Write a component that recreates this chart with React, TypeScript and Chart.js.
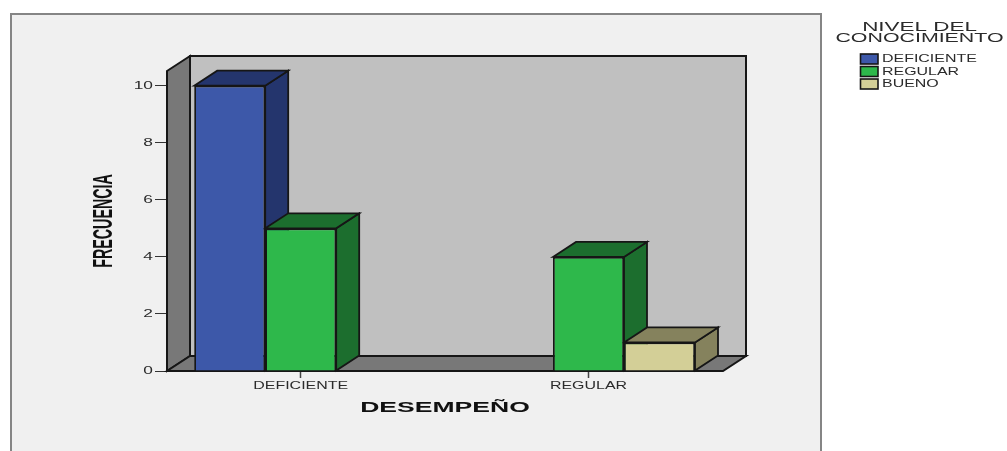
import React, { useEffect, useRef } from "react";
import { Chart, registerables } from "chart.js";

Chart.register(...registerables);

// Chart data
const categories = ["DEFICIENTE", "REGULAR"];
const deficiente = [10, null];
const regular = [5, 4];
const bueno = [null, 1];
const yTicks = [0, 2, 4, 6, 8, 10];
const xTitle = "DESEMPEÑO";
const yTitle = "FRECUENCIA";
const legendTitle = ["NIVEL DEL", "CONOCIMIENTO"];

// Front, shaded and outline colours of the bars
const FRONT = ["#3d58a9", "#2eb84b", "#d3cf97"];
const SHADE = ["#24356d", "#1c6e2e", "#85825d"];
const OUTLINE = "#161616";
const PANEL = "#f0f0f0";
const WALL_BACK = "#c0c0c0";
const WALL_SIDE = "#787878";
const TEXT = "#2b2b2b";

// Oblique projection offset of the 3D box
const DEPTH_X = 23;
const DEPTH_Y = 15;

// Horizontal stretch applied to each kind of label
const STRETCH: Record<string, number> = {
  [yTitle]: 0.51,
  [xTitle]: 1.77,
  [legendTitle[0]]: 1.87,
  [legendTitle[1]]: 1.78,
};
const stretchFor = (text: string) =>
  STRETCH[text] ?? (/^\d+$/.test(text) ? 1.65 : 1.45);

function poly(ctx: CanvasRenderingContext2D, pts: number[][], fill: string, lw = 1.8) {
  ctx.beginPath();
  pts.forEach(([x, y], i) => (i ? ctx.lineTo(x, y) : ctx.moveTo(x, y)));
  ctx.closePath();
  ctx.fillStyle = fill;
  ctx.fill();
  ctx.lineWidth = lw;
  ctx.strokeStyle = OUTLINE;
  ctx.lineJoin = "miter";
  ctx.stroke();
}

// Grey chart panel, open at the bottom of the page
const panelPlugin = {
  id: "panel",
  beforeDraw(chart: any) {
    const { ctx, width, height } = chart;
    ctx.save();
    ctx.fillStyle = "#ffffff";
    ctx.fillRect(0, 0, width, height);
    ctx.fillStyle = PANEL;
    ctx.fillRect(11, 14, 810, height - 14);
    ctx.strokeStyle = "#858585";
    ctx.lineWidth = 2;
    ctx.beginPath();
    ctx.moveTo(11, height);
    ctx.lineTo(11, 14);
    ctx.lineTo(821, 14);
    ctx.lineTo(821, height);
    ctx.stroke();
    ctx.restore();
  },
};

// Back wall, side wall, floor and the depth faces of every bar
const depthPlugin = {
  id: "depth",
  beforeDatasetsDraw(chart: any) {
    const { ctx, chartArea: a } = chart;
    const { left: l, right: r, top: t, bottom: b } = a;
    const dx = DEPTH_X;
    const dy = DEPTH_Y;
    ctx.save();
    poly(ctx, [[l + dx, t - dy], [r + dx, t - dy], [r + dx, b - dy], [l + dx, b - dy]], WALL_BACK, 2);
    poly(ctx, [[l, t], [l + dx, t - dy], [l + dx, b - dy], [l, b]], WALL_SIDE, 2);
    poly(ctx, [[l, b], [l + dx, b - dy], [r + dx, b - dy], [r, b]], WALL_SIDE, 2);
    categories.forEach((_, i) => {
      chart.data.datasets.forEach((ds: any, d: number) => {
        if (ds.data[i] == null) return;
        const bar = chart.getDatasetMeta(d).data[i];
        const x0 = bar.x - bar.width / 2;
        const x1 = bar.x + bar.width / 2;
        poly(ctx, [[x1, bar.y], [x1 + dx, bar.y - dy], [x1 + dx, bar.base - dy], [x1, bar.base]], SHADE[d]);
        poly(ctx, [[x0, bar.y], [x0 + dx, bar.y - dy], [x1 + dx, bar.y - dy], [x1, bar.y]], SHADE[d]);
      });
    });
    ctx.restore();
  },
};

// Legend block to the right of the panel
const legendPlugin = {
  id: "sideLegend",
  afterDraw(chart: any) {
    const { ctx } = chart;
    ctx.save();
    ctx.fillStyle = TEXT;
    ctx.textBaseline = "middle";
    ctx.textAlign = "center";
    ctx.font = "12px 'Liberation Sans'";
    legendTitle.forEach((line, i) => ctx.fillText(line, 919.5, 27.5 + i * 11.5));
    ctx.textAlign = "left";
    ctx.font = "11px 'Liberation Sans'";
    chart.data.datasets.forEach((ds: any, i: number) => {
      const y = 59 + i * 12.5;
      ctx.fillStyle = ds.backgroundColor;
      ctx.fillRect(860.5, y - 5, 17.5, 10);
      ctx.lineWidth = 1.6;
      ctx.strokeStyle = OUTLINE;
      ctx.strokeRect(860.5, y - 5, 17.5, 10);
      ctx.fillStyle = TEXT;
      ctx.fillText(ds.label, 882, y);
    });
    ctx.restore();
  },
};

export default function App() {
  const ref = useRef<HTMLCanvasElement>(null);

  useEffect(() => {
    document.body.style.margin = "0";
    const canvas = ref.current!;
    const ctx: any = canvas.getContext("2d")!;

    // Labels are widened or narrowed around their anchor as they are painted
    const nativeFillText = CanvasRenderingContext2D.prototype.fillText;
    ctx.fillText = function (text: string, x: number, y: number) {
      ctx.save();
      ctx.translate(x, y);
      ctx.scale(stretchFor(String(text)), 1);
      nativeFillText.call(ctx, text, 0, 0);
      ctx.restore();
    };

    const spacing = 287.8;
    const firstCentre = 300.7;
    const chart = new Chart(canvas, {
      type: "bar",
      data: {
        labels: categories.map((_, i) => i) as any,
        datasets: [
          { label: "DEFICIENTE", data: deficiente, backgroundColor: FRONT[0] },
          { label: "REGULAR", data: regular, backgroundColor: FRONT[1] },
          { label: "BUENO", data: bueno, backgroundColor: FRONT[2] },
        ] as any,
      },
      options: {
        animation: false,
        responsive: false,
        layout: { padding: { left: 0, top: 71, right: 284, bottom: 0 } },
        datasets: {
          bar: {
            categoryPercentage: 213 / spacing,
            barPercentage: 1,
            borderColor: OUTLINE,
            borderWidth: 1.8,
          },
        },
        plugins: { legend: { display: false }, tooltip: { enabled: false } },
        scales: {
          x: {
            type: "linear",
            offset: false,
            min: (167 - firstCentre) / spacing,
            max: (723 - firstCentre) / spacing,
            afterBuildTicks: (s: any) => {
              s.ticks = categories.map((_, i) => ({ value: i }));
            },
            afterFit: (s: any) => {
              s.height = 80;
            },
            grid: { offset: false, drawOnChartArea: false, drawTicks: true, tickLength: 7, tickColor: "#444", tickWidth: 1.5 },
            border: { display: false },
            ticks: {
              autoSkip: false,
              maxRotation: 0,
              padding: 1,
              color: TEXT,
              font: { family: "'Liberation Sans'", size: 11 },
              callback: (v: any) => categories[v],
            },
            title: {
              display: true,
              text: xTitle,
              color: "#111",
              font: { family: "'Liberation Sans'", size: 15, weight: "bold", lineHeight: 1.2 },
              padding: { top: 0, bottom: 34 },
            },
          },
          y: {
            type: "linear",
            min: 0,
            max: 300 / 28.53,
            afterBuildTicks: (s: any) => {
              s.ticks = yTicks.map((value) => ({ value }));
            },
            afterFit: (s: any) => {
              s.width = 167;
            },
            grid: { drawOnChartArea: false, drawTicks: true, tickLength: 12, tickColor: "#333", tickWidth: 1 },
            border: { display: false },
            ticks: {
              padding: 2,
              color: TEXT,
              font: { family: "'Liberation Sans'", size: 10.5 },
            },
            title: {
              display: true,
              text: yTitle,
              color: "#111",
              font: { family: "'Liberation Sans'", size: 28, weight: "bold", lineHeight: 1.2 },
              padding: { top: 87, bottom: 0 },
            },
          },
        },
      } as any,
      plugins: [panelPlugin, depthPlugin, legendPlugin],
    });

    return () => {
      chart.destroy();
      delete ctx.fillText;
    };
  }, []);

  return <canvas ref={ref} width={1007} height={451} style={{ display: "block" }} />;
}
